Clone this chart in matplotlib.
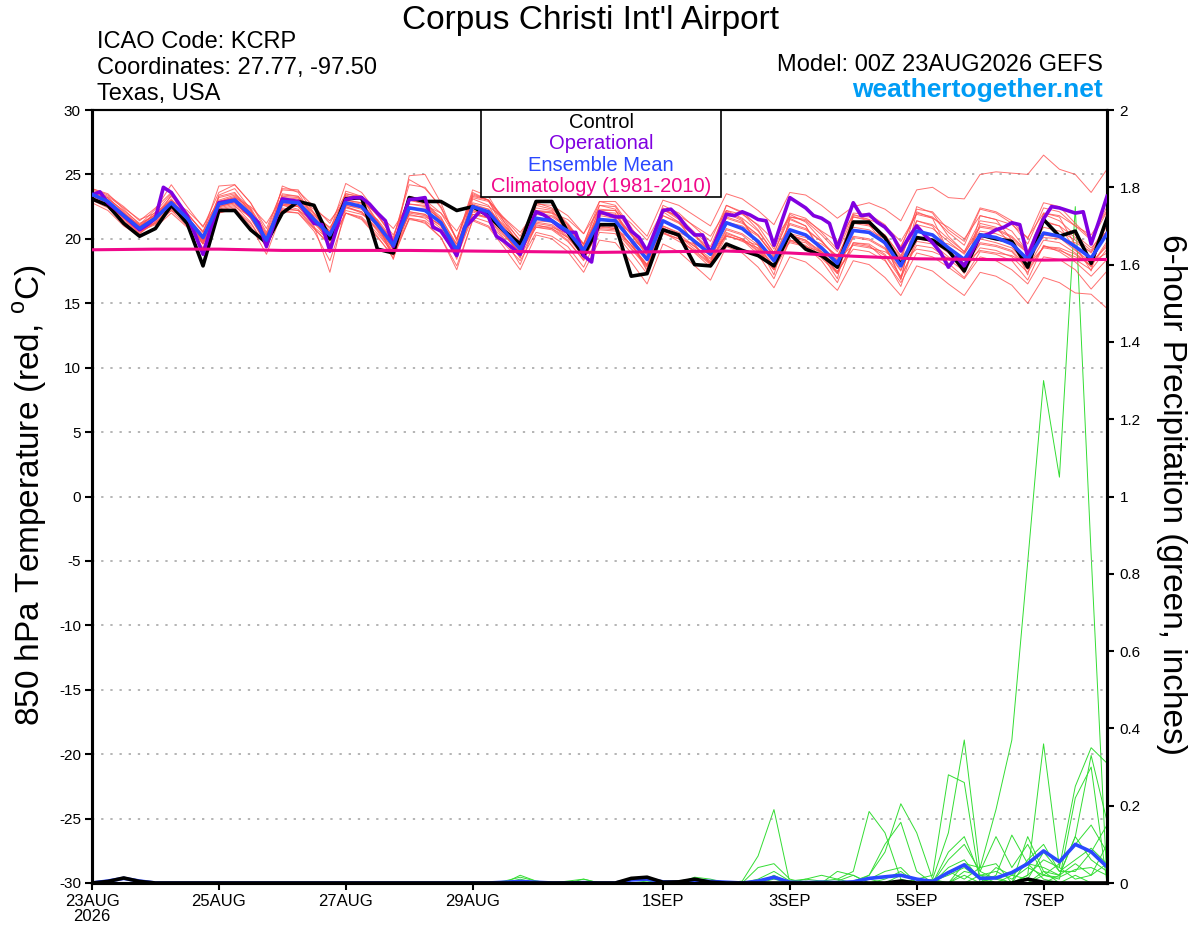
import numpy as np
import matplotlib
matplotlib.use('Agg')
import matplotlib.pyplot as plt
from matplotlib.patches import Rectangle
from matplotlib.ticker import FormatStrFormatter

plt.rcParams['font.family'] = ['Liberation Sans', 'DejaVu Sans']
plt.rcParams['mathtext.fontset'] = 'custom'
plt.rcParams['mathtext.rm'] = 'Liberation Sans'
plt.rcParams['axes.unicode_minus'] = False

# forecast hours: ensemble every 6 h, operational every 3 h, climatology daily
hours = np.arange(0, 385, 6)
op_hours = np.arange(0, 385, 3)
clim_hours = np.arange(0, 385, 24)

tick_hours = [0, 48, 96, 144, 216, 264, 312, 360]
tick_labels = ['23AUG\n2026', '25AUG', '27AUG', '29AUG', '1SEP', '3SEP', '5SEP', '7SEP']

# 850 hPa temperature (C)
control_t = [23.1, 22.6, 21.2, 20.2, 20.8, 22.6, 21.2, 17.9, 22.2, 22.2, 20.7, 19.7,
             22.0, 22.9, 22.6, 20.0, 23.1, 23.2, 19.2, 18.9, 23.2, 22.9, 22.9, 22.2,
             22.5, 21.8, 20.6, 19.6, 22.9, 22.9, 20.5, 18.7, 21.1, 21.1, 17.1, 17.3,
             20.7, 20.3, 18.0, 17.9, 19.6, 19.1, 18.7, 17.9, 20.4, 19.2, 18.7, 17.8,
             21.3, 21.3, 20.1, 18.0, 20.1, 19.9, 19.1, 17.5, 20.3, 20.0, 19.8, 17.8,
             21.5, 20.2, 20.6, 18.1, 21.6]

mean_t = [23.45, 22.9, 21.8, 20.8, 21.6, 22.8, 21.6, 20.1, 22.7, 23.0, 21.9, 19.9,
          22.9, 22.8, 21.5, 20.3, 22.8, 22.5, 21.1, 19.5, 22.4, 22.2, 21.25, 19.1,
          22.5, 22.1, 20.6, 19.2, 21.6, 21.4, 20.6, 19.1, 21.5, 21.4, 19.9, 18.4,
          21.4, 20.8, 19.8, 18.8, 21.25, 20.8, 19.8, 18.3, 20.7, 20.3, 19.3, 18.1,
          20.65, 20.5, 19.7, 17.9, 20.6, 20.3, 19.3, 18.4, 20.3, 20.1, 19.6, 18.4,
          20.45, 20.2, 19.4, 18.5, 20.4]

oper_t = [23.4, 23.65, 22.8, 22.3, 21.8, 21.25, 20.7, 21.1, 21.6, 24.0, 23.6, 22.7,
          21.8, 20.35, 18.8, 20.9, 22.8, 22.9, 23.0, 22.4, 21.85, 21.25, 19.4, 21.25,
          23.1, 23.0, 22.9, 22.0, 21.2, 21.1, 19.05, 21.1, 23.05, 23.2,
          23.2, 22.7, 22.0, 21.4, 19.4, 21.25, 23.05, 23.1, 23.2, 20.9, 20.6, 19.7,
          18.7, 20.9, 21.5, 22.2, 21.7, 20.2, 19.8, 19.3, 18.8, 20.5, 22.1, 21.85,
          21.4, 20.9, 20.5, 20.5, 18.7, 18.2, 22.1,
          21.9, 21.7, 21.7, 20.6, 20.1, 19.05, 20.6, 22.2, 22.3, 21.7, 20.9, 20.3,
          20.3, 18.9, 20.35, 21.9, 21.8, 22.1, 21.85, 21.5, 21.4, 19.5, 21.4, 23.2,
          22.8, 22.4, 21.8, 21.6, 21.2, 19.3, 21.1, 22.8,
          21.8, 21.9, 21.3, 20.9, 20.2, 19.05, 20.1, 21.0, 20.3, 19.7, 18.95, 17.8,
          18.6, 17.9, 19.05, 20.2, 20.35, 20.7, 20.9, 21.25, 21.1, 18.6, 20.2, 21.55,
          22.5, 22.4, 22.2, 22.0, 22.1, 19.6, 21.4, 23.3]

clim_t = [19.15, 19.2, 19.2, 19.1, 19.1, 19.1, 19.05, 19.0, 18.95, 19.0, 19.05,
          18.9, 18.65, 18.45, 18.4, 18.35, 18.4]

m01 = [23.7, 23.2, 22.1, 21.0, 21.9, 23.3, 22.0, 20.5, 23.2, 23.5, 22.4, 20.4, 23.4, 23.3, 22.0, 20.8,
       23.3, 23.1, 21.8, 20.3, 23.2, 23.0, 22.0, 20.0, 23.3, 23.0, 21.6, 20.2, 22.7, 22.6, 21.8, 20.4,
       22.9, 22.9, 21.5, 20.2, 23.0, 22.6, 21.8, 21.0, 23.5, 23.1, 22.2, 21.1, 23.6, 23.4, 22.6, 21.6,
       22.5, 22.8, 22.3, 21.4, 23.8, 24.0, 23.2, 23.1, 25.0, 25.2, 25.1, 25.0, 26.5, 25.4, 25.0, 23.6, 25.4]
m02 = [23.2, 22.6, 21.4, 20.5, 21.2, 22.4, 21.2, 19.7, 22.3, 22.6, 21.3, 19.3, 22.4, 22.2, 20.8, 19.5,
       22.0, 21.6, 20.2, 18.5, 21.6, 21.2, 20.1, 17.9, 21.4, 20.9, 19.3, 17.6, 20.3, 20.0, 19.0, 17.4,
       19.9, 19.7, 18.2, 16.5, 19.6, 19.0, 17.9, 16.8, 19.4, 18.9, 17.8, 16.2, 18.6, 18.2, 17.2, 16.0,
       18.3, 18.0, 17.0, 15.6, 17.9, 17.5, 16.5, 15.6, 17.4, 17.1, 16.4, 15.0, 17.0, 16.6, 15.8, 15.7, 14.6]
m03 = [23.6, 23.0, 21.6, 20.4, 21.5, 23.4, 21.8, 19.6, 23.3, 23.6, 22.0, 19.3, 23.5, 23.3, 21.6, 19.8,
       23.4, 23.0, 21.0, 18.8, 23.0, 22.8, 21.3, 18.4, 23.1, 22.6, 20.5, 18.5, 22.2, 22.0, 20.6, 18.5,
       22.1, 22.0, 19.8, 17.6, 22.1, 21.3, 19.6, 18.0, 22.0, 21.4, 19.6, 17.6, 21.5, 21.0, 19.0, 17.3,
       21.4, 21.1, 19.5, 17.0, 21.4, 21.0, 19.1, 17.6, 21.2, 20.9, 19.5, 17.7, 21.4, 21.0, 19.2, 17.8, 21.3]
m04 = [23.8, 23.3, 22.4, 21.5, 22.0, 23.0, 22.2, 21.0, 22.9, 23.2, 22.5, 21.2, 23.2, 23.1, 22.3, 21.4,
       23.0, 22.8, 22.0, 20.8, 22.7, 22.6, 22.0, 20.6, 22.8, 22.5, 21.6, 20.5, 22.1, 22.0, 21.5, 20.4,
       22.3, 22.2, 21.2, 19.9, 22.2, 21.8, 21.0, 20.2, 22.2, 21.9, 21.1, 19.9, 21.7, 21.5, 20.6, 19.8,
       21.8, 21.7, 21.0, 19.8, 21.9, 21.6, 20.9, 20.0, 21.8, 21.5, 21.1, 20.1, 22.0, 21.8, 21.0, 20.3, 22.2]
m05 = [23.1, 22.5, 21.5, 20.6, 21.1, 22.2, 21.0, 19.6, 22.0, 22.3, 21.2, 19.4, 22.2, 22.0, 20.8, 19.6,
       22.0, 21.7, 20.4, 18.9, 21.6, 21.4, 20.5, 18.6, 21.7, 21.3, 19.9, 18.6, 20.9, 20.7, 19.8, 18.4,
       20.7, 20.6, 19.2, 17.8, 20.5, 20.0, 19.0, 18.0, 20.4, 20.0, 19.0, 17.6, 19.8, 19.5, 18.5, 17.3,
       19.7, 19.6, 18.8, 17.1, 19.5, 19.3, 18.4, 17.5, 19.3, 19.1, 18.6, 17.4, 19.4, 19.2, 18.4, 17.6, 19.2]
m06 = [23.9, 23.5, 22.3, 21.1, 22.3, 24.2, 22.5, 20.9, 23.6, 24.2, 22.8, 20.8, 23.8, 23.7, 22.5, 21.2,
       23.5, 23.2, 21.4, 19.2, 24.9, 25.0, 22.8, 19.8, 23.4, 23.0, 21.3, 19.9, 22.8, 22.4, 21.2, 19.6,
       22.9, 22.6, 20.9, 19.0, 22.4, 21.6, 20.3, 19.0, 22.6, 22.0, 20.7, 18.9, 21.9, 21.3, 19.9, 18.3,
       21.7, 21.4, 20.1, 18.2, 22.5, 22.0, 20.2, 19.0, 21.4, 21.2, 20.6, 19.0, 21.9, 21.4, 20.3, 19.3, 20.6]
m07 = [22.8, 22.2, 21.0, 20.2, 20.9, 22.0, 20.9, 19.3, 22.0, 22.4, 21.0, 18.8, 22.1, 22.0, 20.6, 18.3,
       22.0, 21.5, 20.1, 18.7, 21.5, 21.3, 20.1, 17.6, 21.5, 21.0, 19.6, 18.3, 20.5, 20.2, 19.4, 17.8,
       20.5, 20.4, 18.9, 17.3, 20.9, 20.1, 18.9, 17.8, 20.2, 19.9, 18.8, 16.9, 19.9, 19.4, 18.3, 16.6,
       19.7, 19.5, 18.4, 16.3, 20.2, 19.7, 18.1, 17.0, 19.0, 18.8, 18.3, 16.8, 19.5, 19.0, 18.2, 17.1, 18.4]
m08 = [23.5, 22.8, 21.9, 21.1, 21.9, 22.9, 21.9, 20.6, 22.9, 23.3, 22.3, 20.3, 22.8, 22.6, 21.8, 20.9,
       22.6, 22.4, 21.5, 19.9, 22.3, 22.4, 21.6, 19.6, 22.6, 22.3, 21.0, 19.7, 21.4, 21.3, 20.9, 19.6,
       21.8, 21.6, 20.4, 18.9, 21.0, 20.5, 19.9, 19.1, 21.3, 21.0, 20.2, 18.8, 20.4, 20.1, 19.6, 18.7,
       20.9, 20.7, 20.0, 18.5, 20.1, 19.9, 19.6, 18.9, 20.6, 20.4, 19.9, 18.9, 20.1, 20.0, 19.7, 19.0, 20.6]
m09 = [23.3, 22.9, 22.0, 21.0, 21.7, 22.9, 21.5, 19.9, 22.6, 22.9, 21.6, 19.6, 23.0, 22.9, 21.2, 19.9,
       23.0, 22.8, 21.3, 19.7, 23.0, 22.7, 21.7, 19.4, 23.2, 22.9, 21.1, 19.5, 22.2, 22.1, 21.1, 19.5,
       22.2, 22.2, 20.6, 18.9, 22.6, 22.0, 20.9, 19.8, 22.6, 22.1, 21.0, 19.2, 22.0, 21.6, 20.5, 19.2,
       22.0, 21.9, 21.1, 19.3, 22.3, 22.1, 20.7, 19.8, 22.4, 22.1, 21.4, 20.0, 22.8, 22.5, 21.2, 20.0, 22.5]
m10 = [23.4, 22.7, 21.6, 20.7, 21.4, 22.6, 21.3, 19.2, 22.5, 22.8, 21.6, 19.6, 22.7, 22.5, 21.0, 17.4,
       22.5, 22.0, 20.8, 19.2, 21.9, 21.6, 20.6, 18.6, 22.1, 21.6, 20.0, 18.0, 21.2, 21.0, 20.1, 18.6,
       21.0, 20.8, 19.3, 17.9, 20.6, 20.2, 19.4, 18.2, 20.7, 20.3, 19.2, 17.6, 20.2, 19.8, 18.8, 17.4,
       19.6, 19.4, 18.7, 16.9, 19.8, 19.6, 18.6, 17.8, 19.6, 19.4, 19.0, 17.6, 19.4, 19.3, 18.8, 17.9, 19.6]
m11 = [23.9, 23.4, 22.5, 21.4, 22.4, 23.6, 22.0, 20.5, 24.1, 24.2, 22.8, 20.5, 23.9, 23.8, 22.0, 20.6,
       24.3, 23.6, 22.0, 19.9, 24.6, 23.9, 22.5, 19.9, 23.8, 23.3, 21.3, 19.4, 22.0, 21.8, 21.0, 19.3,
       22.0, 21.9, 20.4, 18.7, 21.8, 21.3, 20.2, 19.0, 21.6, 21.2, 20.3, 18.6, 21.1, 20.7, 19.8, 18.5,
       21.2, 21.0, 20.3, 18.7, 21.1, 20.8, 19.8, 18.8, 20.9, 20.7, 20.1, 18.9, 20.9, 20.6, 19.9, 18.9, 21.0]
m12 = [23.0, 22.4, 21.3, 20.4, 21.3, 22.3, 21.3, 19.8, 22.4, 22.7, 21.7, 20.1, 22.6, 22.5, 21.3, 20.1,
       22.4, 22.1, 20.6, 18.8, 22.0, 21.8, 20.8, 18.8, 21.9, 21.6, 20.2, 19.0, 20.9, 20.8, 20.1, 18.8,
       21.1, 20.9, 19.5, 18.0, 20.7, 20.2, 19.2, 18.4, 20.3, 19.8, 19.3, 17.9, 19.9, 19.7, 18.6, 17.5,
       19.2, 19.0, 18.3, 16.6, 18.9, 18.6, 17.8, 16.9, 18.6, 18.3, 17.6, 16.5, 18.6, 18.4, 17.6, 16.1, 17.5]
m13 = [23.6, 23.1, 22.2, 21.2, 21.8, 23.1, 21.6, 20.1, 23.0, 23.4, 22.2, 20.0, 23.3, 23.2, 21.9, 20.5,
       23.5, 23.3, 21.8, 20.1, 24.2, 24.0, 22.4, 20.0, 23.6, 23.0, 21.5, 19.8, 22.6, 22.3, 21.1, 19.6,
       22.6, 22.5, 20.6, 19.0, 22.3, 21.7, 20.5, 19.4, 22.2, 21.6, 20.6, 18.9, 21.7, 21.4, 20.3, 19.0,
       21.7, 21.5, 21.0, 19.4, 22.0, 21.7, 20.5, 19.5, 22.3, 22.0, 21.2, 19.6, 22.4, 22.1, 21.0, 19.9, 22.1]
m14 = [23.2, 22.7, 21.7, 20.6, 21.3, 22.5, 21.3, 19.6, 22.5, 22.9, 21.8, 19.5, 22.6, 22.3, 20.9, 19.9,
       22.5, 22.1, 20.7, 19.0, 22.1, 21.9, 21.0, 18.9, 22.2, 21.9, 20.4, 18.9, 21.1, 20.8, 19.9, 18.3,
       20.9, 20.8, 19.5, 17.9, 20.5, 19.8, 19.1, 18.1, 20.5, 20.0, 19.1, 17.7, 20.3, 19.9, 18.9, 17.7,
       20.1, 19.9, 19.2, 17.5, 20.6, 20.3, 19.0, 18.1, 20.0, 19.7, 19.3, 18.0, 20.3, 20.1, 19.1, 18.2, 19.4]
m15 = [23.5, 23.0, 21.9, 20.9, 21.8, 23.0, 21.7, 20.3, 22.8, 23.2, 22.1, 20.2, 23.1, 23.0, 21.7, 20.6,
       22.9, 22.7, 21.4, 19.7, 22.7, 22.5, 21.5, 19.3, 22.7, 22.3, 20.9, 19.4, 21.9, 21.7, 20.9, 19.3,
       21.9, 21.8, 20.3, 18.8, 21.8, 21.2, 20.3, 19.2, 21.7, 21.3, 20.3, 18.7, 21.2, 20.8, 19.8, 18.6,
       21.3, 21.1, 20.3, 18.6, 21.4, 21.1, 20.0, 19.0, 21.0, 20.8, 20.2, 19.0, 21.3, 21.0, 20.1, 19.1, 21.2]
m16 = [23.3, 22.8, 21.7, 20.7, 21.5, 22.6, 21.4, 19.9, 22.5, 22.8, 21.7, 19.7, 22.7, 22.6, 21.3, 20.0,
       22.6, 22.3, 20.9, 19.2, 22.1, 21.9, 21.0, 18.8, 22.2, 21.8, 20.3, 18.9, 21.3, 21.1, 20.2, 18.8,
       21.1, 21.0, 19.5, 18.0, 21.0, 20.4, 19.4, 18.5, 20.8, 20.4, 19.5, 17.9, 20.3, 19.9, 19.0, 17.8,
       20.2, 20.0, 19.3, 17.6, 20.0, 19.8, 18.9, 18.0, 19.7, 19.5, 19.1, 17.8, 19.9, 19.7, 18.9, 17.9, 19.8]
m17 = [23.6, 23.2, 22.0, 20.9, 22.1, 23.5, 21.9, 19.8, 23.4, 23.9, 22.3, 19.6, 24.1, 23.6, 21.6, 19.4,
       23.7, 23.3, 21.2, 18.4, 23.3, 23.0, 21.4, 18.6, 23.5, 23.0, 20.6, 18.6, 22.4, 22.2, 20.6, 18.7,
       22.6, 22.3, 19.7, 17.5, 22.3, 21.5, 19.5, 18.2, 22.1, 21.5, 19.5, 17.2, 21.6, 21.0, 18.8, 16.9,
       21.9, 21.5, 19.6, 16.8, 22.1, 21.6, 19.0, 17.3, 21.8, 21.5, 19.9, 17.2, 22.0, 21.7, 19.5, 17.5, 21.9]
m18 = [23.0, 22.6, 21.6, 20.8, 21.2, 22.2, 21.5, 20.2, 22.2, 22.5, 21.7, 20.3, 22.3, 22.2, 21.4, 20.5,
       22.2, 21.9, 21.2, 20.0, 21.8, 21.7, 21.1, 19.6, 21.9, 21.7, 20.7, 19.7, 21.0, 20.9, 20.4, 19.4,
       20.8, 20.7, 20.0, 19.1, 20.4, 20.0, 19.6, 19.0, 20.2, 19.9, 19.5, 18.6, 19.7, 19.4, 19.0, 18.4,
       19.5, 19.3, 19.0, 18.2, 19.2, 19.0, 18.5, 18.1, 19.1, 18.9, 18.7, 18.0, 19.3, 19.1, 18.6, 18.2, 18.9]
member_t = [m01, m02, m03, m04, m05, m06, m07, m08, m09, m10, m11, m12, m13, m14, m15, m16, m17, m18]

# 6-hour precipitation (inches), rows of 13 steps
control_p = [0, 0.004, 0.013, 0.004, 0, 0, 0, 0, 0, 0, 0, 0, 0,
             0, 0, 0, 0, 0, 0, 0, 0, 0, 0, 0, 0, 0,
             0, 0, 0, 0, 0, 0, 0, 0, 0.012, 0.015, 0.002, 0.003, 0.01,
             0.002, 0, 0, 0, 0, 0, 0, 0, 0, 0, 0, 0, 0.005,
             0, 0, 0, 0, 0, 0, 0, 0.01, 0.002, 0, 0, 0, 0]
mean_p = [0, 0.005, 0.012, 0.005, 0, 0, 0, 0, 0, 0, 0, 0, 0,
          0, 0, 0, 0, 0, 0, 0, 0, 0, 0, 0, 0, 0,
          0.002, 0.004, 0.002, 0, 0, 0.001, 0, 0, 0.008, 0.01, 0.003, 0.002, 0.006,
          0.004, 0.002, 0, 0.005, 0.015, 0.002, 0.001, 0.002, 0.001, 0.003, 0.012, 0.016, 0.02,
          0.01, 0.004, 0.027, 0.047, 0.012, 0.013, 0.027, 0.05, 0.083, 0.055, 0.1, 0.081, 0.042]

p01 = [0, 0, 0, 0, 0, 0, 0, 0, 0, 0, 0, 0, 0,
       0, 0, 0, 0, 0, 0, 0, 0, 0, 0, 0, 0, 0,
       0, 0, 0, 0, 0, 0, 0, 0, 0, 0, 0, 0, 0,
       0, 0, 0, 0, 0.02, 0, 0, 0, 0, 0, 0.01, 0, 0,
       0, 0, 0.03, 0.01, 0.04, 0.19, 0.37, 0.83, 1.30, 1.05, 1.75, 0.85, 0]
p02 = [0, 0, 0, 0, 0, 0, 0, 0, 0, 0, 0, 0, 0,
       0, 0, 0, 0, 0, 0, 0, 0, 0, 0, 0, 0, 0,
       0, 0.01, 0, 0, 0, 0, 0, 0, 0, 0, 0, 0, 0,
       0, 0, 0, 0, 0, 0, 0, 0, 0, 0, 0, 0, 0,
       0, 0, 0, 0, 0, 0, 0, 0.02, 0.36, 0.04, 0.25, 0.35, 0.31]
p03 = [0, 0, 0, 0, 0, 0, 0, 0, 0, 0, 0, 0, 0,
       0, 0, 0, 0, 0, 0, 0, 0, 0, 0, 0, 0, 0,
       0, 0, 0, 0, 0, 0, 0, 0, 0, 0, 0, 0, 0,
       0, 0, 0, 0, 0, 0, 0, 0, 0, 0, 0, 0, 0,
       0, 0, 0, 0, 0, 0, 0, 0, 0, 0.02, 0.12, 0.33, 0.16]
p04 = [0, 0, 0, 0, 0, 0, 0, 0, 0, 0, 0, 0, 0,
       0, 0, 0, 0, 0, 0, 0, 0, 0, 0, 0, 0, 0,
       0, 0, 0, 0, 0, 0, 0, 0, 0, 0, 0, 0, 0,
       0, 0, 0, 0, 0, 0, 0, 0, 0, 0, 0, 0, 0,
       0, 0.01, 0.13, 0.37, 0.03, 0.01, 0, 0, 0.03, 0.02, 0.05, 0.02, 0.1]
p05 = [0, 0, 0, 0, 0, 0, 0, 0, 0, 0, 0, 0, 0,
       0, 0, 0, 0, 0, 0, 0, 0, 0, 0, 0, 0, 0,
       0, 0, 0, 0, 0, 0, 0, 0, 0, 0, 0, 0, 0,
       0, 0, 0, 0, 0, 0, 0, 0, 0, 0, 0, 0, 0,
       0.01, 0.02, 0.28, 0.26, 0, 0.04, 0.02, 0.05, 0.01, 0, 0, 0, 0]
p06 = [0, 0, 0, 0, 0, 0, 0, 0, 0, 0, 0, 0, 0,
       0, 0, 0, 0, 0, 0, 0, 0, 0, 0, 0, 0, 0,
       0, 0, 0, 0, 0, 0, 0, 0, 0, 0, 0, 0, 0,
       0, 0, 0.005, 0.07, 0.19, 0, 0.01, 0.02, 0.01, 0, 0, 0, 0,
       0, 0, 0, 0, 0, 0, 0, 0, 0, 0, 0.02, 0, 0]
p07 = [0, 0, 0, 0, 0, 0, 0, 0, 0, 0, 0, 0, 0,
       0, 0, 0, 0, 0, 0, 0, 0, 0, 0, 0, 0, 0,
       0, 0, 0, 0, 0, 0, 0, 0, 0, 0, 0, 0, 0,
       0, 0, 0, 0, 0, 0, 0, 0.005, 0.01, 0.03, 0.185, 0.13, 0.01,
       0, 0, 0, 0, 0.02, 0.03, 0.01, 0.04, 0.02, 0.05, 0.1, 0.15, 0.08]
p08 = [0, 0, 0, 0, 0, 0, 0, 0, 0, 0, 0, 0, 0,
       0, 0, 0, 0, 0, 0, 0, 0, 0, 0, 0, 0, 0,
       0, 0, 0, 0, 0, 0, 0, 0, 0, 0, 0, 0, 0,
       0, 0, 0, 0, 0, 0, 0, 0, 0, 0.005, 0.02, 0.08, 0.205,
       0.13, 0.01, 0, 0.05, 0.04, 0.05, 0, 0.12, 0.03, 0, 0, 0, 0]
p09 = [0, 0, 0, 0, 0, 0, 0, 0, 0, 0, 0, 0, 0,
       0, 0, 0, 0, 0, 0, 0, 0, 0, 0, 0, 0, 0,
       0, 0, 0, 0, 0, 0, 0, 0, 0, 0, 0, 0, 0,
       0, 0, 0, 0.04, 0.05, 0.01, 0, 0, 0, 0, 0.02, 0.1, 0.157,
       0.03, 0, 0.08, 0.12, 0.02, 0, 0, 0.06, 0.1, 0.03, 0.03, 0.08, 0.15]
p10 = [0, 0, 0, 0, 0, 0, 0, 0, 0, 0, 0, 0, 0,
       0, 0, 0, 0, 0, 0, 0, 0, 0, 0, 0, 0, 0,
       0, 0, 0, 0, 0, 0, 0, 0, 0, 0, 0, 0, 0.015,
       0.01, 0, 0, 0.01, 0.03, 0.005, 0, 0, 0.03, 0.02, 0, 0, 0.02,
       0.01, 0, 0.06, 0.1, 0.03, 0.12, 0.04, 0.1, 0.02, 0.01, 0.22, 0.3, 0]
p11 = [0, 0, 0, 0, 0, 0, 0, 0, 0, 0, 0, 0, 0,
       0, 0, 0, 0, 0, 0, 0, 0, 0, 0, 0, 0, 0,
       0, 0.02, 0.005, 0, 0, 0.01, 0, 0, 0, 0.005, 0, 0, 0,
       0.005, 0, 0, 0, 0, 0.005, 0.01, 0.005, 0, 0, 0, 0, 0,
       0, 0.005, 0, 0.02, 0, 0.02, 0.124, 0.05, 0.04, 0.02, 0.12, 0.06, 0.03]
p12 = [0, 0, 0, 0, 0, 0, 0, 0, 0, 0, 0, 0, 0,
       0, 0, 0, 0, 0, 0, 0, 0, 0, 0, 0, 0, 0,
       0, 0, 0, 0, 0, 0, 0, 0, 0, 0, 0, 0, 0,
       0, 0, 0, 0, 0.01, 0, 0, 0, 0, 0, 0, 0.01, 0.03,
       0, 0, 0.04, 0.06, 0.01, 0, 0.02, 0.01, 0.08, 0.03, 0.06, 0.09, 0.05]
p13 = [0, 0, 0, 0, 0, 0, 0, 0, 0, 0, 0, 0, 0,
       0, 0, 0, 0, 0, 0, 0, 0, 0, 0, 0, 0, 0,
       0, 0, 0, 0, 0, 0, 0, 0, 0, 0, 0, 0, 0,
       0, 0, 0, 0, 0, 0, 0, 0, 0, 0, 0.01, 0.03, 0.04,
       0, 0.005, 0.02, 0.04, 0.01, 0, 0, 0, 0.02, 0.015, 0.035, 0.04, 0.02]
p14 = [0, 0, 0, 0, 0, 0, 0, 0, 0, 0, 0, 0, 0,
       0, 0, 0, 0, 0, 0, 0, 0, 0, 0, 0, 0, 0,
       0.005, 0.015, 0.005, 0, 0.005, 0.01, 0, 0, 0, 0, 0, 0.005, 0.012,
       0.005, 0, 0, 0, 0, 0, 0.005, 0, 0.005, 0.02, 0, 0, 0,
       0, 0, 0, 0.03, 0.02, 0.015, 0, 0.02, 0.06, 0.04, 0.01, 0.02, 0.05]
member_p = [p01, p02, p03, p04, p05, p06, p07, p08, p09, p10, p11, p12, p13, p14]

RED = '#ff4d4d'
GREEN = '#33dd33'
PURPLE = '#8000e0'
BLUE = '#2a48ff'
PINK = '#f0088a'

W, H = 1200, 927
fig = plt.figure(figsize=(W / 100, H / 100), dpi=100)
x0, x1, y0, y1 = 92, 1107, 110, 883
ax = fig.add_axes([x0 / W, 1 - y1 / H, (x1 - x0) / W, (y1 - y0) / H])
ax2 = ax.twinx()
ax.set_zorder(ax2.get_zorder() + 1)
ax.patch.set_visible(False)

# precipitation (right axis)
for p in member_p:
    ax2.plot(hours, p, color=GREEN, lw=0.7, zorder=2)
ax2.plot(hours, mean_p, color=BLUE, lw=2.6, zorder=3)
ax2.plot(hours, control_p, color='black', lw=2.6, zorder=4)

# temperature (left axis)
for m in member_t:
    ax.plot(hours, m, color=RED, lw=0.7, alpha=0.8, zorder=2)
ax.plot(hours, control_t, color='black', lw=2.6, zorder=3)
ax.plot(op_hours, oper_t, color=PURPLE, lw=2.6, zorder=4)
ax.plot(hours, mean_t, color=BLUE, lw=2.6, zorder=5)
ax.plot(clim_hours, clim_t, color=PINK, lw=2.2, zorder=6)

ax.set_xlim(0, 384)
ax.set_ylim(-30, 30)
ax2.set_ylim(0, 2)
ax.set_yticks(np.arange(-30, 31, 5))
ax2.set_yticks(np.arange(0, 2.01, 0.2))
ax2.yaxis.set_major_formatter(FormatStrFormatter('%g'))
ax.set_xticks(tick_hours)
ax.set_xticklabels(tick_labels, linespacing=1.0)

ax.grid(axis='y', color='#a0a0a0', linestyle=(0, (1.5, 4.5)), linewidth=1.1)
ax.tick_params(axis='x', direction='out', length=5, width=1.5, labelsize=12, pad=3)
ax.tick_params(axis='y', direction='out', length=5, width=1.5, labelsize=11, pad=3)
ax2.tick_params(axis='y', direction='out', length=5, width=1.5, labelsize=11, pad=4)

for a in (ax, ax2):
    for side, s in a.spines.items():
        s.set_linewidth(1.5 if side == 'top' else 2.2)

# legend box
fig.add_artist(Rectangle((481 / W, 1 - 197 / H), 240 / W, 87 / H, transform=fig.transFigure,
                         facecolor='white', edgecolor='black', lw=1.2, zorder=10))
for label, color, yb in [('Control', 'black', 128), ('Operational', PURPLE, 149),
                         ('Ensemble Mean', BLUE, 171), ('Climatology (1981-2010)', PINK, 192.5)]:
    fig.text(601 / W, 1 - yb / H, label, color=color, fontsize=14.5, ha='center', va='baseline', zorder=11)

# header texts
fig.text(590 / W, 1 - 29 / H, "Corpus Christi Int'l Airport", fontsize=24, ha='center', va='baseline')
fig.text(97 / W, 1 - 48 / H, 'ICAO Code: KCRP', fontsize=17, ha='left', va='baseline')
fig.text(97 / W, 1 - 74 / H, 'Coordinates: 27.77, -97.50', fontsize=17, ha='left', va='baseline')
fig.text(97 / W, 1 - 100 / H, 'Texas, USA', fontsize=17, ha='left', va='baseline')
fig.text(1103 / W, 1 - 71 / H, 'Model: 00Z 23AUG2026 GEFS', fontsize=17, ha='right', va='baseline')
fig.text(1103 / W, 1 - 97 / H, 'weathertogether.net', fontsize=19, fontweight='bold',
         color='#009cf5', ha='right', va='baseline')

fig.text(30 / W, 1 - 495 / H, '850 hPa Temperature (red, $^{\\mathrm{o}}$C)', fontsize=24,
         rotation=90, ha='center', va='center')
fig.text(1172 / W, 1 - 495 / H, '6-hour Precipitation (green, inches)', fontsize=24,
         rotation=270, ha='center', va='center')

fig.savefig('out.png', dpi=100, facecolor='white')
